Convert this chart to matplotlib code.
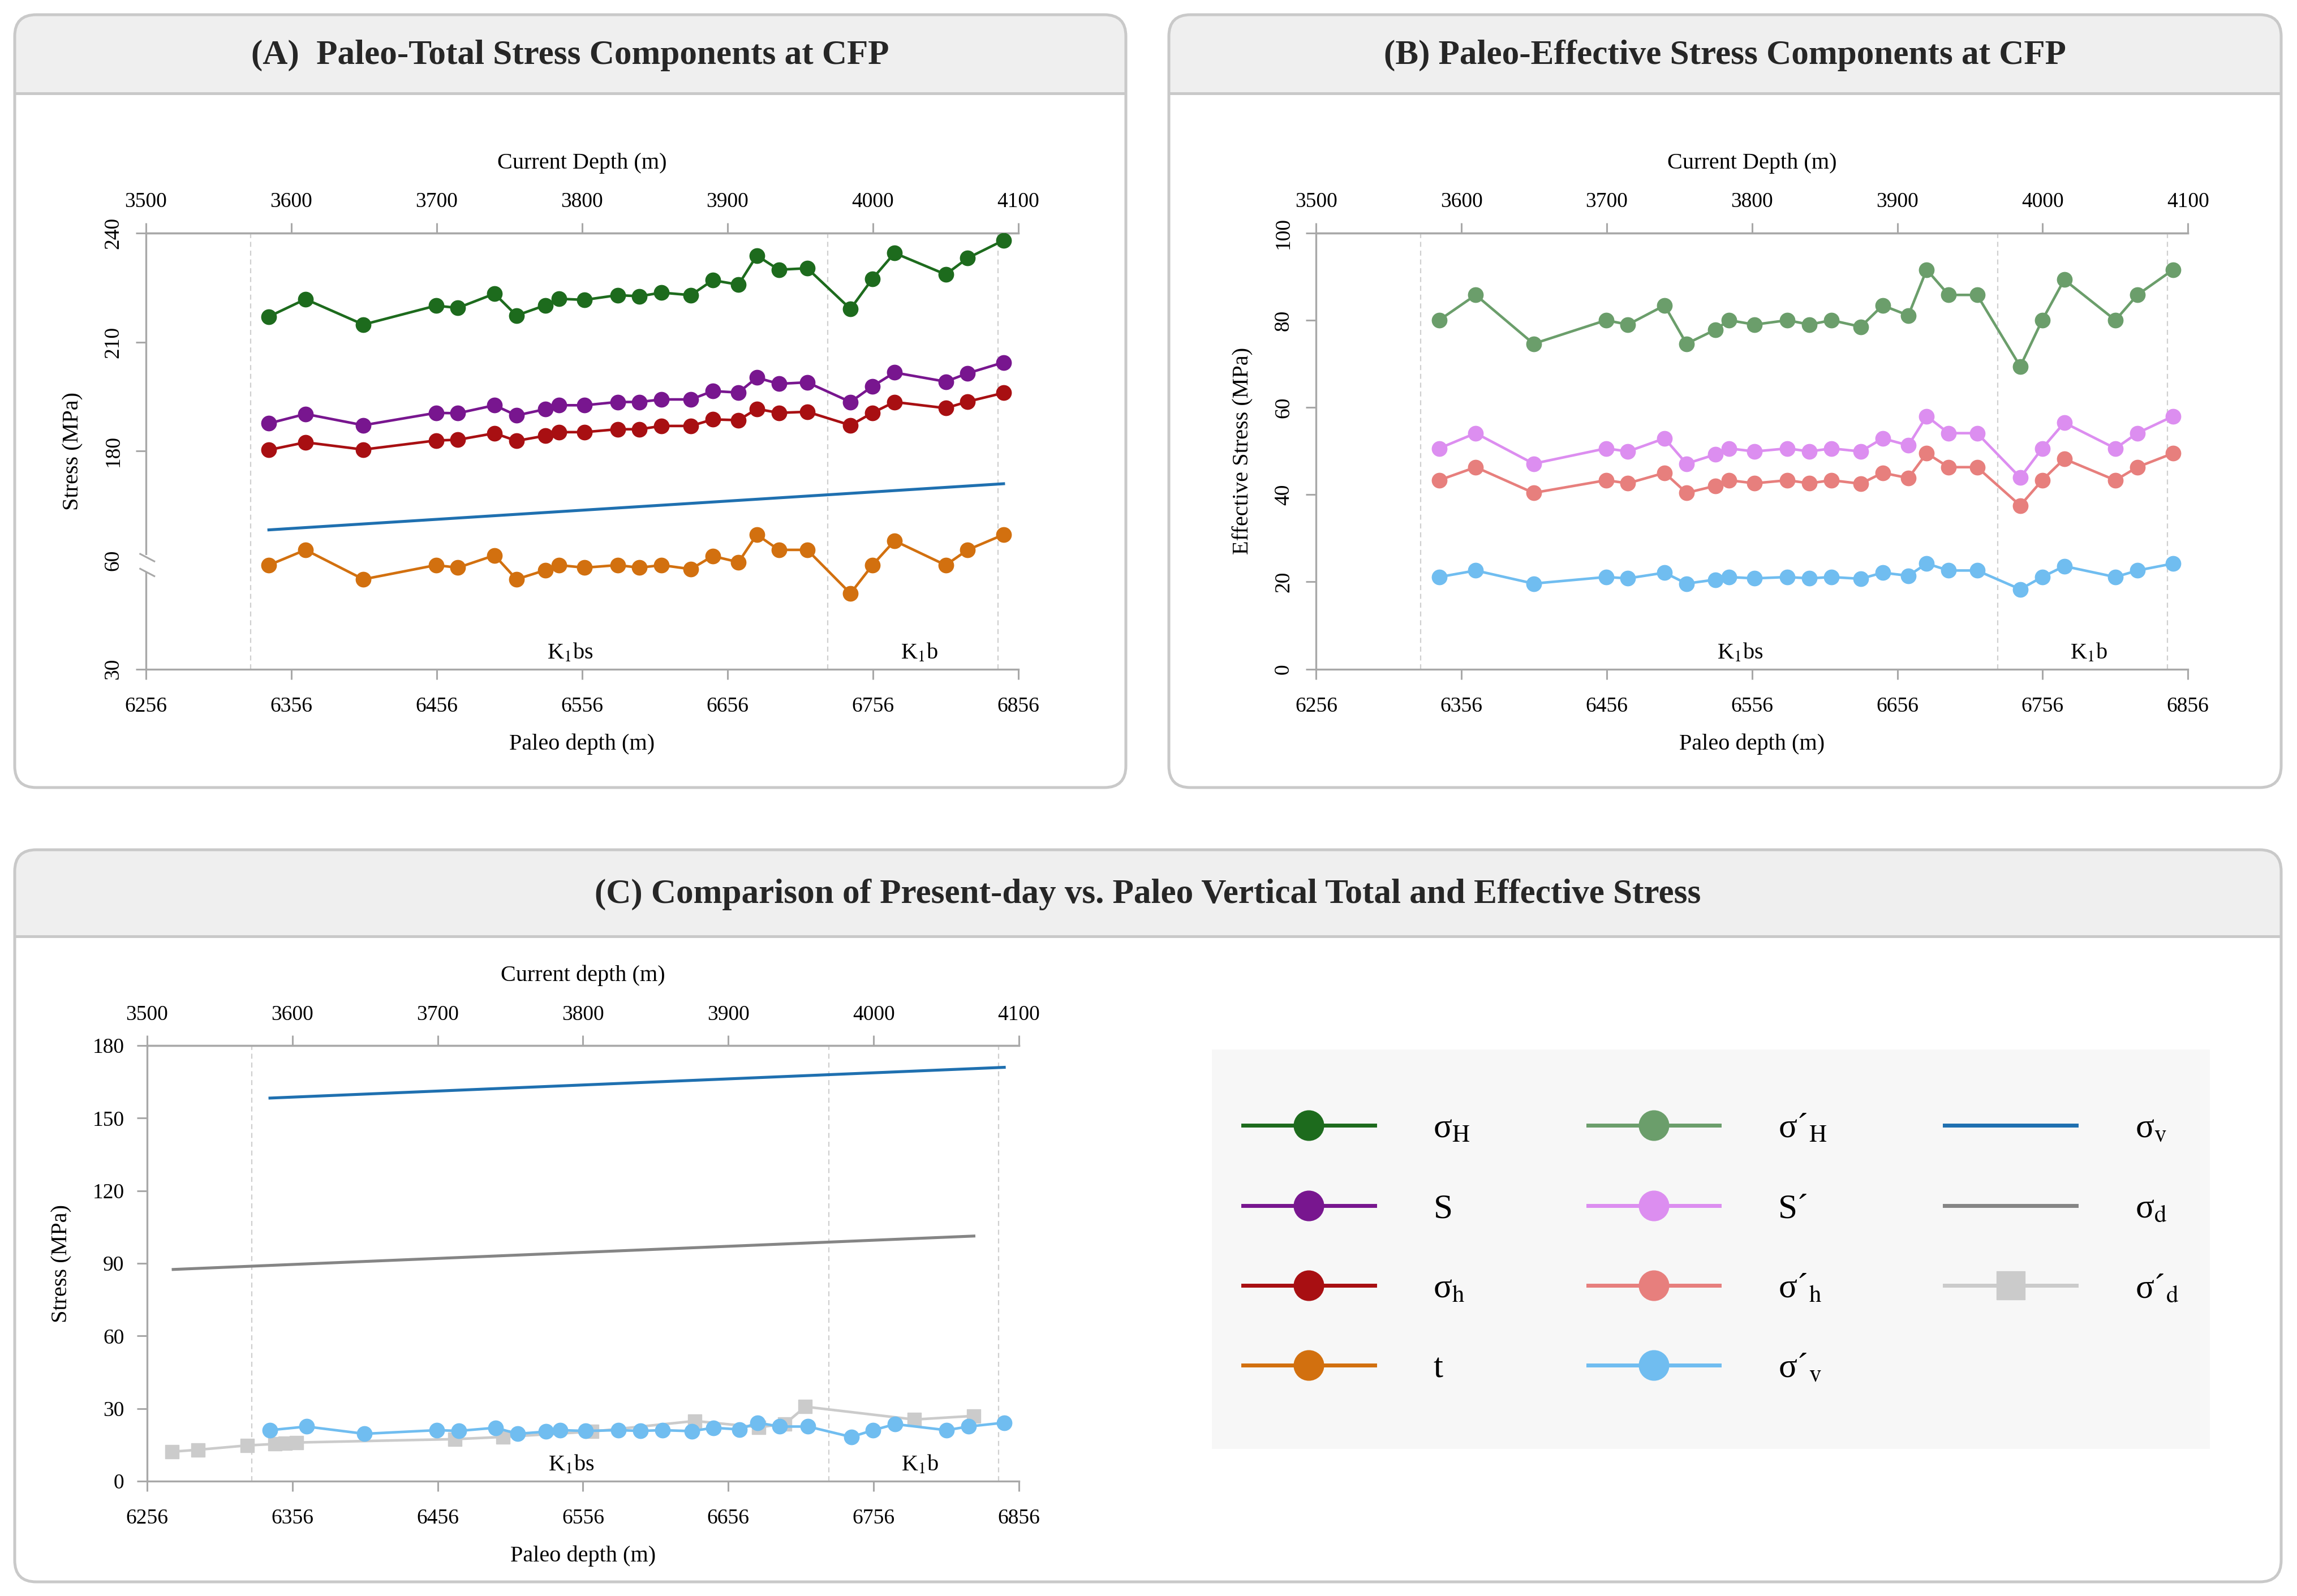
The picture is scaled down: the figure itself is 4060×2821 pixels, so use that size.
import matplotlib
matplotlib.use('agg')
import matplotlib.pyplot as plt
from matplotlib.patches import FancyBboxPatch, Rectangle
from matplotlib.lines import Line2D

plt.rcParams['font.family'] = ['Liberation Serif', 'DejaVu Serif']
plt.rcParams['mathtext.fontset'] = 'stix'

W, H = 4060, 2821
DEPTH_OFFSET = 2756  # paleo depth minus current depth

# sampled depths (paleo depth, m)
paleo_depth = [6340.6, 6365.8, 6405.6, 6455.5, 6470.6, 6495.8, 6510.9, 6530.6, 6540.1,
               6557.8, 6580.4, 6595.5, 6610.7, 6630.8, 6645.9, 6663.6, 6676.2, 6691.3,
               6710.9, 6740.6, 6755.7, 6770.9, 6806.1, 6821.2, 6845.9]

# (A) paleo total stress, MPa
sigma_H = [217.0, 221.8, 214.8, 220.0, 219.4, 223.3, 217.3, 220.1, 221.9, 221.6, 222.9, 222.6,
           223.6, 222.9, 227.0, 225.8, 233.8, 229.9, 230.3, 219.1, 227.4, 234.5, 228.6, 233.1, 238.0]
S_total = [187.6, 190.2, 187.1, 190.5, 190.4, 192.6, 189.8, 191.5, 192.6, 192.6, 193.5, 193.5,
           194.2, 194.2, 196.5, 196.1, 200.2, 198.5, 198.9, 193.5, 197.8, 201.6, 199.1, 201.4, 204.4]
sigma_h = [180.3, 182.4, 180.4, 182.9, 183.1, 184.9, 182.8, 184.2, 185.2, 185.2, 186.0, 186.0,
           186.9, 186.9, 188.7, 188.5, 191.6, 190.5, 190.8, 187.1, 190.5, 193.5, 191.8, 193.6, 196.0]
t_diff = [58.6, 62.8, 54.7, 58.6, 57.9, 61.3, 54.7, 57.2, 58.6, 57.9, 58.6, 57.9,
          58.6, 57.5, 61.1, 59.4, 67.0, 62.8, 62.8, 50.8, 58.6, 65.3, 58.6, 62.8, 67.0]
sigma_v_depth = [6340.6, 6845.9]
sigma_v = [158.3, 171.0]

# (B) paleo effective stress, MPa
eff_H = [80.0, 85.8, 74.6, 80.0, 79.0, 83.4, 74.6, 77.8, 80.0, 79.0, 80.0, 79.0,
         80.0, 78.5, 83.4, 81.1, 91.6, 85.8, 85.8, 69.4, 80.0, 89.3, 80.0, 85.8, 91.6]
eff_S = [50.6, 54.1, 47.1, 50.6, 49.9, 52.9, 47.1, 49.2, 50.6, 49.9, 50.6, 49.9,
         50.6, 49.9, 52.9, 51.3, 58.0, 54.1, 54.1, 43.9, 50.6, 56.5, 50.6, 54.1, 58.0]
eff_h = [43.3, 46.3, 40.4, 43.3, 42.6, 45.0, 40.4, 42.0, 43.3, 42.6, 43.3, 42.6,
         43.3, 42.5, 45.0, 43.8, 49.5, 46.3, 46.3, 37.5, 43.3, 48.2, 43.3, 46.3, 49.5]
eff_v = [21.1, 22.6, 19.6, 21.1, 20.8, 22.1, 19.6, 20.5, 21.1, 20.8, 21.1, 20.8,
         21.1, 20.7, 22.1, 21.4, 24.2, 22.6, 22.6, 18.3, 21.1, 23.6, 21.1, 22.6, 24.2]

# (C) present-day vertical stress
sigma_d_depth = [6274, 6825]
sigma_d = [87.5, 101.3]
eff_d_depth = [6273, 6291, 6325, 6344, 6351, 6359, 6468, 6501, 6562, 6633, 6677, 6695,
               6709, 6784, 6825]
eff_d = [12.2, 13.0, 14.8, 15.4, 15.8, 16.0, 17.4, 18.3, 20.5, 24.9, 22.3, 23.7,
         30.8, 25.5, 27.0]

# formation boundaries and names
boundaries = [6328, 6725, 6842]
formations = [(r'K$_{\rm 1}$bs', 6548), (r'K$_{\rm 1}$b', 6788)]

colors = {
    'sH': '#1d6b1d', 'S': '#78168f', 'sh': '#a80f12', 't': '#d2700f', 'sv': '#1f70b0',
    'eH': '#6b9e6b', 'eS': '#dc8ef0', 'eh': '#e77f7d', 'ev': '#70bdf0',
    'sd': '#858585', 'ed': '#cbcbcb',
}
SPINE = '#a8a8a8'
LW = 3.3
MS = 19

fig = plt.figure(figsize=(W / 100, H / 100), dpi=100)

# panel frames
bg = fig.add_axes([0, 0, 1, 1], zorder=-5)
bg.set_xlim(0, W)
bg.set_ylim(H, 0)
bg.axis('off')


def panel(x0, y0, x1, y1, yh, title):
    box = FancyBboxPatch((x0, y0), x1 - x0, y1 - y0,
                         boxstyle='round,pad=0,rounding_size=38',
                         fc='white', ec='none')
    bg.add_patch(box)
    head = Rectangle((x0, y0), x1 - x0, yh - y0, fc='#efefef', ec='none')
    bg.add_patch(head)
    head.set_clip_path(box)
    bg.plot([x0, x1], [yh, yh], color='#c9c9c9', lw=3.6, solid_capstyle='butt')
    bg.add_patch(FancyBboxPatch((x0, y0), x1 - x0, y1 - y0,
                                boxstyle='round,pad=0,rounding_size=38',
                                fc='none', ec='#c9c9c9', lw=3.6))
    bg.text((x0 + x1) / 2, (y0 + yh) / 2 + 2, title, ha='center', va='center',
            fontsize=44, fontweight='bold', color='#262626')


panel(26, 26, 1990, 1392, 165, '(A)  Paleo-Total Stress Components at CFP')
panel(2066, 26, 4032, 1392, 165, '(B) Paleo-Effective Stress Components at CFP')
panel(26, 1502, 4032, 2796, 1655,
      '(C) Comparison of Present-day vs. Paleo Vertical Total and Effective Stress')


def style_axes(ax, ylabel, top_label, rotate):
    ax.set_xlim(6256, 6856)
    ax.set_xticks(range(6256, 6857, 100))
    for side in ['left', 'bottom', 'top']:
        ax.spines[side].set_color(SPINE)
        ax.spines[side].set_linewidth(2.4)
    ax.spines['right'].set_visible(False)
    ax.tick_params(axis='both', colors=SPINE, labelcolor='black', length=13,
                   width=2.2, labelsize=27)
    ax.tick_params(axis='x', pad=22)
    ax.tick_params(axis='y', pad=16)
    if rotate:
        plt.setp(ax.get_yticklabels(), rotation=90, va='center')
    ax.set_xlabel('Paleo depth (m)', fontsize=29, labelpad=22)
    ax.set_ylabel(ylabel, fontsize=29, labelpad=26)
    sec = ax.secondary_xaxis('top', functions=(lambda p: p - DEPTH_OFFSET,
                                               lambda c: c + DEPTH_OFFSET))
    sec.set_xticks(range(3500, 4101, 100))
    sec.spines['top'].set_color(SPINE)
    sec.spines['top'].set_linewidth(2.4)
    sec.tick_params(colors=SPINE, labelcolor='black', length=13, width=2.2,
                    labelsize=27, pad=14)
    sec.set_xlabel(top_label, fontsize=29, labelpad=30)
    for b in boundaries:
        ax.axvline(b, color='#cfcfcf', lw=1.6, ls=(0, (4, 3)), zorder=1)
    for name, x in formations:
        ax.text(x, 0.012, name, transform=ax.get_xaxis_transform(),
                ha='center', va='bottom', fontsize=29)


def series(ax, x, y, c, marker='o', ms=MS):
    ax.plot(x, y, '-', color=c, lw=LW, marker=marker, ms=ms, mec=c, zorder=3)


# ---- (A)
axA = fig.add_axes([0.0635, 0.5808, 0.3798, 0.2732])
axA.set_ylim(120, 240)
axA.set_yticks([180, 210, 240])
series(axA, paleo_depth, sigma_H, colors['sH'])
series(axA, paleo_depth, S_total, colors['S'])
series(axA, paleo_depth, sigma_h, colors['sh'])
axA.plot(sigma_v_depth, sigma_v, color=colors['sv'], lw=LW + 0.4, zorder=3)
style_axes(axA, 'Stress (MPa)', 'Current Depth (m)', True)

# lower part of the broken axis carries t
axT = axA.twinx()
axT.set_ylim(30, 150)
axT.set_yticks([30, 60])
axT.yaxis.set_ticks_position('left')
for s in axT.spines.values():
    s.set_visible(False)
axT.tick_params(axis='y', colors=SPINE, labelcolor='black', length=13, width=2.2,
                labelsize=27, pad=16)
plt.setp(axT.get_yticklabels(), rotation=90, va='center')
series(axT, paleo_depth, t_diff, colors['t'])
axT.add_patch(Rectangle((-0.012, 0.222), 0.02, 0.04, transform=axT.transAxes,
                        fc='white', ec='none', clip_on=False, zorder=10))
for y0 in (0.264, 0.230):
    axT.add_line(Line2D([-0.0065, 0.0097], [y0, y0 - 0.017], transform=axT.transAxes,
                        color=SPINE, lw=2.2, clip_on=False, zorder=11))

# ---- (B)
axB = fig.add_axes([0.5730, 0.5808, 0.3795, 0.2732])
axB.set_ylim(0, 100)
axB.set_yticks(range(0, 101, 20))
series(axB, paleo_depth, eff_H, colors['eH'])
series(axB, paleo_depth, eff_S, colors['eS'])
series(axB, paleo_depth, eff_h, colors['eh'])
series(axB, paleo_depth, eff_v, colors['ev'])
style_axes(axB, 'Effective Stress (MPa)', 'Current Depth (m)', True)

# ---- (C)
axC = fig.add_axes([0.0640, 0.0719, 0.3796, 0.2730])
axC.set_ylim(0, 180)
axC.set_yticks(range(0, 181, 30))
axC.plot(sigma_v_depth, sigma_v, color=colors['sv'], lw=LW + 0.4, zorder=3)
axC.plot(sigma_d_depth, sigma_d, color=colors['sd'], lw=LW + 0.4, zorder=3)
series(axC, eff_d_depth, eff_d, colors['ed'], marker='s', ms=17)
series(axC, paleo_depth, eff_v, colors['ev'])
style_axes(axC, 'Stress (MPa)', 'Current depth (m)', False)

# ---- legend
axL = fig.add_axes([0.5276, 0.0922, 0.4345, 0.2503])
axL.set_facecolor('#f7f7f7')
axL.set_xticks([])
axL.set_yticks([])
for s in axL.spines.values():
    s.set_visible(False)


def h_marker(c, m='o'):
    return Line2D([], [], color=c, lw=5, marker=m, ms=38 if m == 'o' else 36, mec=c)


def h_line(c):
    return Line2D([], [], color=c, lw=5)


handles = [h_marker(colors['sH']), h_marker(colors['S']), h_marker(colors['sh']),
           h_marker(colors['t']),
           h_marker(colors['eH']), h_marker(colors['eS']), h_marker(colors['eh']),
           h_marker(colors['ev']),
           h_line(colors['sv']), h_line(colors['sd']), h_marker(colors['ed'], 's')]
labels = [r'σ$_{\rm H}$', 'S', r'σ$_{\rm h}$', 't',
          r'σ´$_{\rm H}$', 'S´', r'σ´$_{\rm h}$', r'σ´$_{\rm v}$',
          r'σ$_{\rm v}$', r'σ$_{\rm d}$', r'σ´$_{\rm d}$']
axL.legend(handles, labels, ncol=3, loc='center', frameon=False, fontsize=44,
           handlelength=3.8, handletextpad=1.7, columnspacing=3.4, labelspacing=1.4,
           borderaxespad=0)

fig.savefig('out.png', dpi=100)
